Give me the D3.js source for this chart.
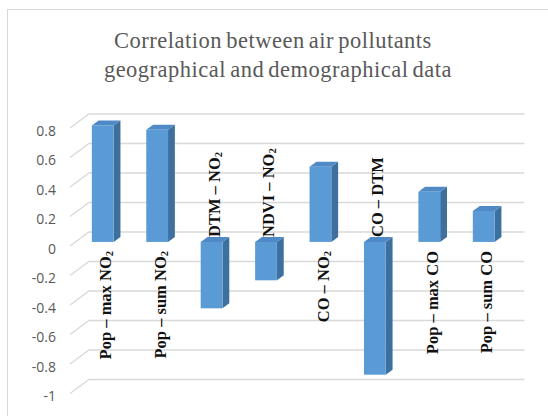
<!DOCTYPE html>
<html>
<head>
<meta charset="utf-8">
<script src="https://cdn.jsdelivr.net/npm/d3@7"></script>
<style>
  html, body { margin: 0; padding: 0; background: #fff; }
  svg { display: block; }
</style>
</head>
<body>
<svg id="chart" width="548" height="416"></svg>
<script>
// Correlation coefficients between pollutants and geographic / demographic layers
const categories = [
  "Pop – max NO2", "Pop – sum NO2", "DTM – NO2", "NDVI – NO2",
  "CO – NO2", "CO – DTM", "Pop – max CO", "Pop – sum CO"
];
const values = [0.79, 0.76, -0.45, -0.26, 0.51, -0.90, 0.34, 0.21];
const tickValues = [0.8, 0.6, 0.4, 0.2, 0, -0.2, -0.4, -0.6, -0.8, -1];
const titleLines = ["Correlation between air pollutants", "geographical and demographical data"];

const svg = d3.select("#chart");

// 3-D projection: moving one unit of depth shifts a point by (depthX, depthY)
const depthX = 19, depthY = -14;
const barFront = 0.29, barBack = 0.65;   // bar depth range, 0 = front edge, 1 = back wall

const x = d3.scaleBand()
  .domain(categories)
  .range([70, 505.4])
  .paddingInner(0.6)
  .paddingOuter(0.3);

// y positions measured on the front plane of the floor
const y = d3.scaleLinear().domain([-1, 0.8]).range([393.5, 128]);

const x0 = x.range()[0], x1 = x.range()[1];

// chart area outline
svg.append("rect")
  .attr("x", 7.5).attr("y", 9.5)
  .attr("width", 560).attr("height", 420)
  .attr("fill", "none")
  .attr("stroke", "#d9d9d9")
  .attr("stroke-width", 1);

// title
svg.append("g")
  .selectAll("text")
  .data(titleLines)
  .join("text")
  .attr("x", (d, i) => i === 0 ? 273 : 278)
  .attr("y", (d, i) => 48 + i * 28.5)
  .attr("text-anchor", "middle")
  .attr("font-family", "Liberation Serif, serif")
  .attr("font-size", 22.5)
  .attr("letter-spacing", 0.5)
  .attr("word-spacing", -2)
  .attr("fill", "#595959")
  .text(d => d);

// gridlines: short diagonal on the side wall, then across the back wall
svg.append("g")
  .selectAll("path")
  .data(tickValues)
  .join("path")
  .attr("fill", "none")
  .attr("stroke", "#d9d9d9")
  .attr("stroke-width", 1.3)
  .attr("d", t => {
    const yf = y(t);
    return `M${x0},${yf}L${x0 + depthX},${yf + depthY}L${x1 + depthX},${yf + depthY}`;
  });

// value axis labels
const axis = d3.axisLeft(y)
  .tickValues(tickValues)
  .tickSize(0)
  .tickPadding(0)
  .tickFormat(d => String(d));

const axisG = svg.append("g")
  .attr("transform", "translate(56,3)")
  .call(axis);
axisG.select(".domain").remove();
axisG.selectAll("text")
  .attr("font-family", "Open Sans, sans-serif")
  .attr("font-size", 14)
  .attr("fill", "#595959");

// bars
const bw = x.bandwidth();
const fx = depthX * barFront, fy = depthY * barFront;
const dx = depthX * (barBack - barFront), dy = depthY * (barBack - barFront);

const bars = svg.append("g")
  .selectAll("g")
  .data(categories.map((c, i) => ({ c, v: values[i] })))
  .join("g");

bars.each(function (d) {
  const g = d3.select(this);
  const left = x(d.c) + fx;
  const right = left + bw;
  const yTop = Math.min(y(d.v), y(0)) + fy;
  const yBot = Math.max(y(d.v), y(0)) + fy;

  // right side face
  g.append("path")
    .attr("fill", "#3d6f9f")
    .attr("d", `M${right},${yTop}L${right + dx},${yTop + dy}L${right + dx},${yBot + dy}L${right},${yBot}Z`);
  // top face
  g.append("path")
    .attr("fill", "#4f8ac6")
    .attr("d", `M${left},${yTop}L${left + dx},${yTop + dy}L${right + dx},${yTop + dy}L${right},${yTop}Z`);
  // front face
  g.append("rect")
    .attr("x", left).attr("y", yTop)
    .attr("width", bw).attr("height", yBot - yTop)
    .attr("fill", "#5b9bd5");
});

// category labels, written upward next to the zero line
const labels = svg.append("g")
  .selectAll("text")
  .data(categories.map((c, i) => ({ c, v: values[i] })))
  .join("text")
  .attr("transform", d => {
    const cx = x(d.c) + fx + bw / 2 + 8.5;
    const cy = d.v >= 0 ? y(0) + 5 : y(0) - 9;
    return `translate(${cx},${cy}) rotate(-90)`;
  })
  .attr("text-anchor", d => d.v >= 0 ? "end" : "start")
  .attr("font-family", "Liberation Serif, serif")
  .attr("font-weight", "bold")
  .attr("font-size", 16.5)
  .attr("fill", "#111");

labels.each(function (d) {
  const t = d3.select(this);
  if (d.c.endsWith("2")) {
    t.append("tspan").text(d.c.slice(0, -1));
    t.append("tspan").attr("font-size", 10.5).attr("dy", 2).text("2");
  } else {
    t.text(d.c);
  }
});
</script>
</body>
</html>
